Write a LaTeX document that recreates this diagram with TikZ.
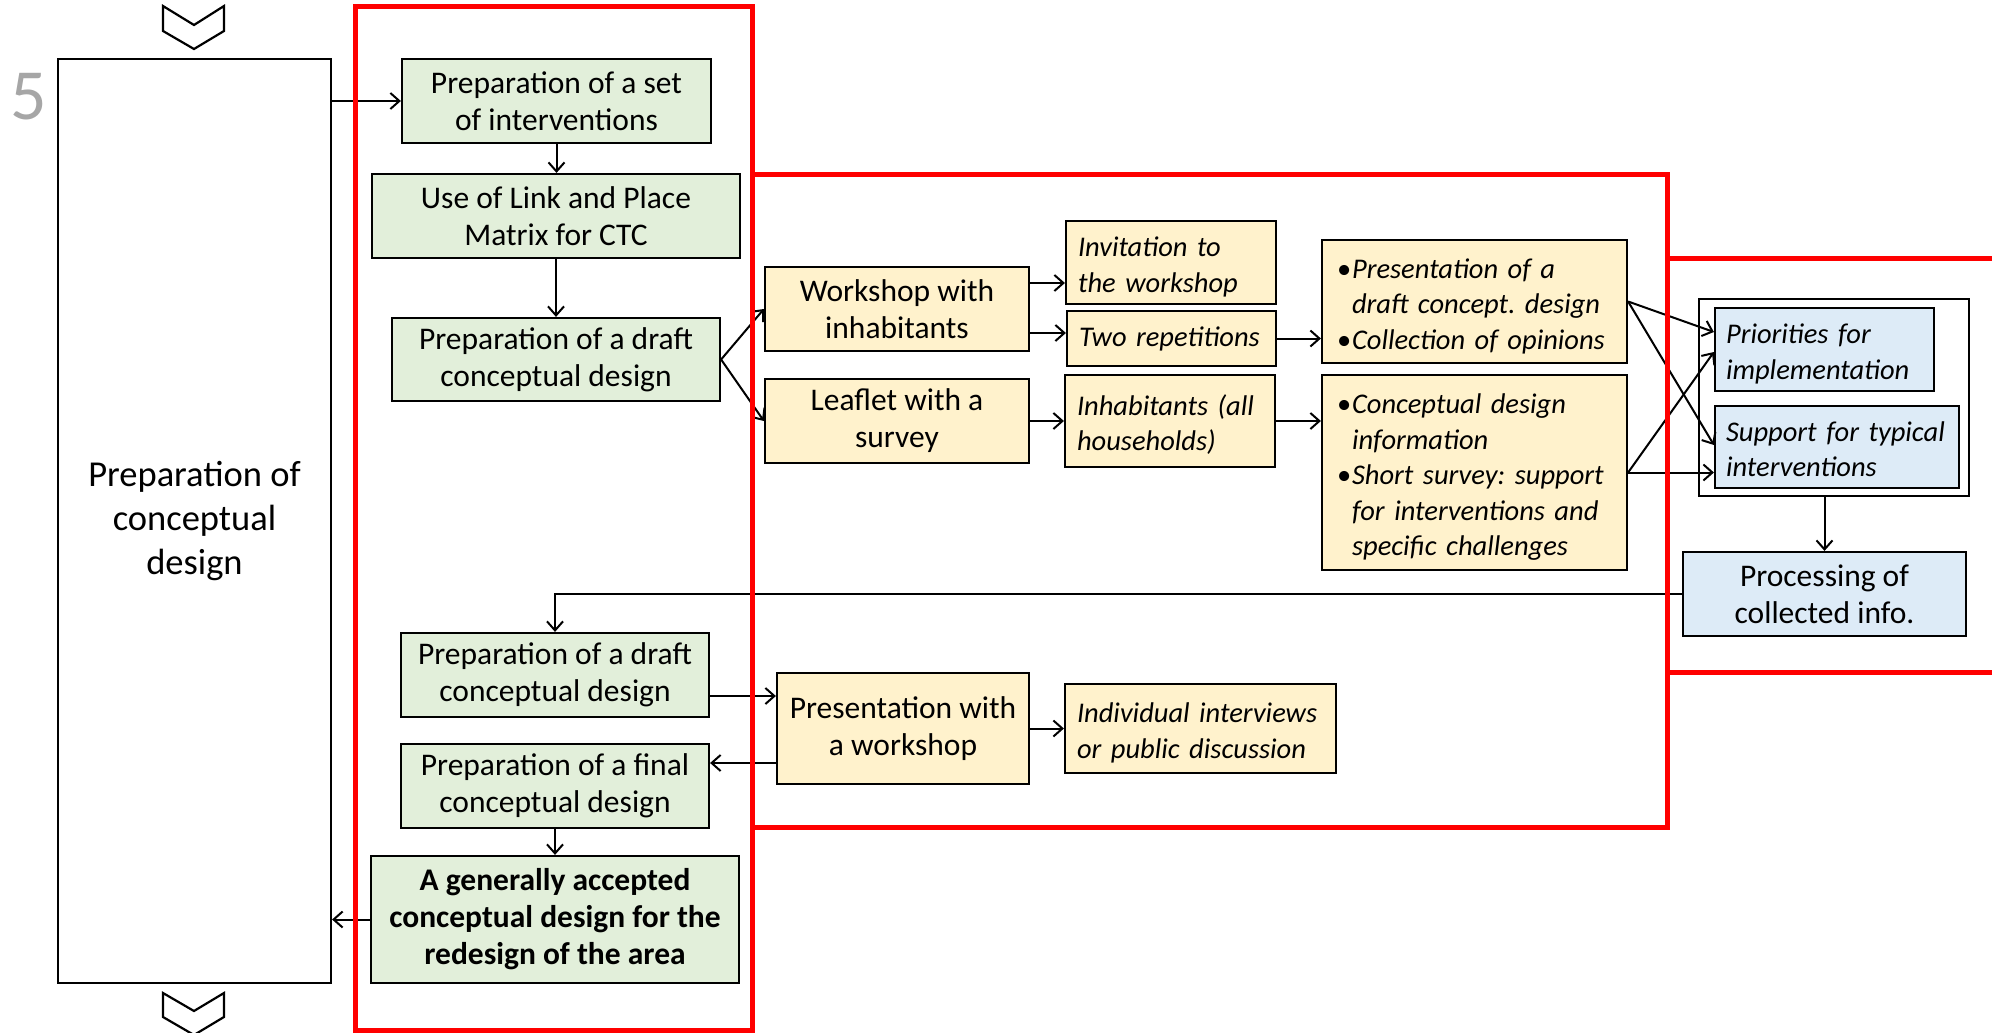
\documentclass[tikz,border=0pt]{standalone}
\usepackage{fontspec}
\setmainfont{Carlito}
\usetikzlibrary{arrows.meta}
\frenchspacing
\definecolor{gfill}{HTML}{E2EFDA}
\definecolor{yfill}{HTML}{FFF2CC}
\definecolor{bfill}{HTML}{DDEBF7}
\definecolor{redc}{HTML}{FF0000}
\definecolor{numgray}{HTML}{A6A6A6}
\newcommand{\upfnt}{\fontsize{31.5}{37}\selectfont}
\newcommand{\itfnt}{\fontsize{28.5}{35.5}\selectfont\itshape\frenchspacing}
\newcommand{\bigfnt}{\fontsize{36.5}{44}\selectfont}
\newcommand{\bul}{\makebox[15pt][l]{\upshape\textbullet}}
\newcommand{\bind}{\hspace*{15pt}}
\newcommand{\lowtxt}[1]{\raisebox{-5pt}[\height][\depth]{\begin{tabular}{@{}l@{}}#1\end{tabular}}}
\tikzset{
  box/.style={draw=black, line width=2.2pt, inner sep=0pt, rectangle},
  sz/.style 2 args={minimum width=#1, minimum height=#2},
  gbox/.style={box, fill=gfill, font=\upfnt, align=center},
  ybox/.style={box, fill=yfill, font=\upfnt, align=center},
  yibox/.style={box, fill=yfill, font=\itfnt, align=left},
  bbox/.style={box, fill=bfill, font=\upfnt, align=center},
  bibox/.style={box, fill=bfill, font=\itfnt, align=left},
  arr/.style={draw=black, line width=2pt, -{Straight Barb[length=9pt,width=16pt]}},
  redline/.style={draw=redc, line width=5pt},
  chev/.style={draw=black, line width=2.2pt, fill=white, line join=miter}
}
\begin{document}
\begin{tikzpicture}[x=1pt,y=-1pt]
\useasboundingbox (0,0) rectangle (1992,1033);

% left big box and chevrons
\draw[chev] (163,6) -- (194,25) -- (224,6) -- (224,31) -- (194,49) -- (163,31) -- cycle;
\draw[chev] (163,993) -- (194,1011) -- (224,993) -- (224,1017) -- (194,1035) -- (163,1017) -- cycle;
\node[text=numgray, font=\fontsize{72}{72}\selectfont, inner sep=0pt] (num) at (29,97) {5};
\node[box, sz={273}{924}, fill=white, font=\bigfnt, align=center] (big) at (194.5,521)
  {Preparation of\\conceptual\\design};

% green column
\node[gbox, sz={309}{84}] (set) at (556.5,101) {Preparation of a set\\of interventions};
\node[gbox, sz={368}{84}] (lpm) at (556,216) {Use of Link and Place\\Matrix for CTC};
\node[gbox, sz={328}{83}] (draft1) at (556,359.5) {Preparation of a draft\\conceptual design};
\node[gbox, sz={308}{84}] (draft2) at (555,675) {Preparation of a draft\\conceptual design};
\node[gbox, sz={308}{84}] (final) at (555,786) {Preparation of a final\\conceptual design};
\node[gbox, sz={368}{127}, font=\upfnt\bfseries] (acc) at (555,919.5)
  {A generally accepted\\conceptual design for the\\redesign of the area};

% yellow boxes
\node[ybox, sz={264}{84}] (work) at (897,309) {Workshop with\\inhabitants};
\node[ybox, sz={264}{84}] (leaf) at (897,421) {Leaflet with a\\survey};
\node[yibox, sz={210}{83}, text width=186pt] (inv) at (1171,262.5) {\lowtxt{Invitation to\\the workshop}};
\node[yibox, sz={209}{55}, text width=185pt] (two) at (1171.5,338.5) {Two repetitions};
\node[yibox, sz={210}{92}, text width=186pt] (inh) at (1170,421) {\lowtxt{Inhabitants (all\\households)}};
\node[yibox, sz={305}{123}, text width=275pt] (boxP) at (1474.5,301.5)
  {\lowtxt{\bul Presentation of a\\\bind draft concept. design\\\bul Collection of opinions}};
\node[yibox, sz={305}{195}, text width=275pt] (boxC) at (1474.5,472.5)
  {\lowtxt{\bul Conceptual design\\\bind information\\\bul Short survey: support\\\bind for interventions and\\\bind specific challenges}};
\node[ybox, sz={252}{111}] (pres) at (903,728.5) {Presentation with\\a workshop};
\node[yibox, sz={271}{89}, text width=247pt] (indiv) at (1200.5,728.5) {\lowtxt{Individual interviews\\or public discussion}};

% blue boxes
\node[box, sz={270}{197}, fill=white] (group) at (1834,397.5) {};
\node[bibox, sz={219}{83}, text width=197pt] (prio) at (1824.5,349.5) {\lowtxt{Priorities for\\implementation}};
\node[bibox, sz={244}{82}, text width=222pt] (supp) at (1837,447) {\lowtxt{Support for typical\\interventions}};
\node[bbox, sz={283}{84}] (proc) at (1824.5,594) {Processing of\\collected info.};

% connectors
\draw[arr] (big.east |- set.west) -- (set.west);
\draw[arr] (set.south) -- (set.south |- lpm.north);
\draw[arr] (lpm.south) -- (lpm.south |- draft1.north);
\draw[arr] (draft1.east) -- (work.west);
\draw[arr] (draft1.east) -- (leaf.west);
\coordinate (w1) at ([yshift=26pt]work.east);
\coordinate (w2) at ([yshift=-24pt]work.east);
\draw[arr] (w1) -- (w1 -| inv.west);
\draw[arr] (w2) -- (w2 -| two.west);
\draw[arr] (leaf.east) -- (leaf.east -| inh.west);
\draw[arr] (two.east) -- (two.east -| boxP.west);
\draw[arr] (inh.east) -- (inh.east -| boxC.west);
\draw[arr] (boxP.east) -- ([yshift=17.5pt]prio.west);
\draw[arr] (boxP.east) -- ([yshift=2pt]supp.west);
\draw[arr] (boxC.east) -- ([yshift=-2.5pt]prio.west);
\draw[arr] (boxC.east) -- (boxC.east -| supp.west);
\draw[arr] (proc.north |- group.south) -- (proc.north);
\draw[arr] (proc.west) -| (draft2.north);
\coordinate (d2) at ([yshift=-21pt]draft2.east);
\draw[arr] (d2) -- (d2 -| pres.west);
\draw[arr] (pres.east) -- (pres.east -| indiv.west);
\coordinate (f1) at ([yshift=23pt]final.east);
\draw[arr] (f1 -| pres.west) -- (f1);
\draw[arr] (final.south) -- (final.south |- acc.north);
\draw[arr] (acc.west) -- (acc.west -| big.east);

% red frames
\draw[redline] (355,7) rectangle (752,1030);
\draw[redline] (752,174) rectangle (1667,827);
\draw[redline] (2005,258) -- (1667,258) -- (1667,672) -- (2005,672);
\end{tikzpicture}
\end{document}
